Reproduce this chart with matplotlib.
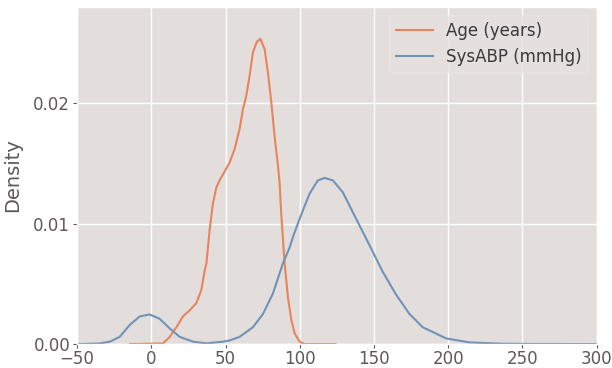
import matplotlib
matplotlib.use("Agg")
import matplotlib.pyplot as plt

# density curves
age_x = [-14.5, 7.9, 12.4, 16.9, 21.3, 25.8, 30.3, 33.7, 35.9, 37.1, 39.3, 41.5,
         43.8, 46.0, 48.3, 52.8, 56.1, 59.5, 61.7, 63.9, 66.2, 68.4, 71.0, 73.4,
         76.3, 78.5, 80.8, 83.0, 85.3, 86.4, 87.5, 89.8, 92.0, 94.3, 96.5, 99.9,
         103.2, 124.0]
age_y = [0.0, 0.00006, 0.0006, 0.0014, 0.0023, 0.0028, 0.0034, 0.0045, 0.0061,
         0.0067, 0.0095, 0.0117, 0.0130, 0.0136, 0.0141, 0.0151, 0.0162, 0.0179,
         0.0195, 0.0206, 0.0223, 0.0242, 0.0251, 0.02535, 0.0245, 0.0226, 0.0201,
         0.0173, 0.0148, 0.0134, 0.0108, 0.0067, 0.0039, 0.0020, 0.0009, 0.0002,
         0.0, 0.0]

bp_x = [-50, -35.0, -28.0, -21.3, -14.5, -7.8, -1.1, 5.6, 12.4, 19.1, 25.8, 28.1,
        37.1, 48.3, 52.8, 59.5, 68.4, 75.2, 81.9, 88.6, 93.1, 95.4, 99.9, 102.1,
        106.6, 112.2, 116.7, 122.3, 129.0, 138.0, 147.0, 155.9, 164.9, 173.9,
        182.8, 189.6, 198.6, 214.3, 236.7, 260.0, 300.0]
bp_y = [0.0, 0.00005, 0.0002, 0.0006, 0.0016, 0.0023, 0.00246, 0.0021, 0.0013,
        0.0006, 0.0003, 0.0002, 0.00006, 0.0002, 0.0003, 0.0006, 0.0014, 0.0025,
        0.0042, 0.0067, 0.0080, 0.0089, 0.0104, 0.0111, 0.0125, 0.0136, 0.0138,
        0.0136, 0.0126, 0.0104, 0.0082, 0.0060, 0.0041, 0.0025, 0.0014, 0.0010,
        0.00047, 0.00014, 0.00003, 0.00001, 0.0]

labels = ["Age (years)", "SysABP (mmHg)"]
xticks = [-50, 0, 50, 100, 150, 200, 250, 300]
yticks = [0.00, 0.01, 0.02]

plt.style.use("ggplot")
text_col = "#5e5858"

fig = plt.figure(figsize=(6.12, 3.68), dpi=100)
ax = fig.add_axes([0.126, 0.065, 0.849, 0.916])
ax.set_facecolor("#e3dedc")

ax.plot(age_x, age_y, color="#e8845c", lw=1.5, label=labels[0])
ax.plot(bp_x, bp_y, color="#7093b8", lw=1.5, label=labels[1])

ax.set_xlim(-50, 300)
ax.set_ylim(0, 0.028)
ax.set_xticks(xticks)
ax.set_yticks(yticks)
ax.set_yticklabels(["%.2f" % v for v in yticks])
ax.grid(True, color="white", lw=1)
ax.tick_params(labelsize=12, colors=text_col, length=3)
ax.tick_params(axis="x", pad=1.5)
ax.tick_params(axis="y", pad=2)
ax.set_ylabel("Density", fontsize=14, color=text_col, labelpad=8)

leg = ax.legend(loc=1, fontsize=12, frameon=True, handlelength=2.2)
leg.get_frame().set_facecolor("#e6e1df")
leg.get_frame().set_edgecolor("#ece8e6")
for t in leg.get_texts():
    t.set_color("#3a3a3a")

fig.savefig("out.png", dpi=100)
